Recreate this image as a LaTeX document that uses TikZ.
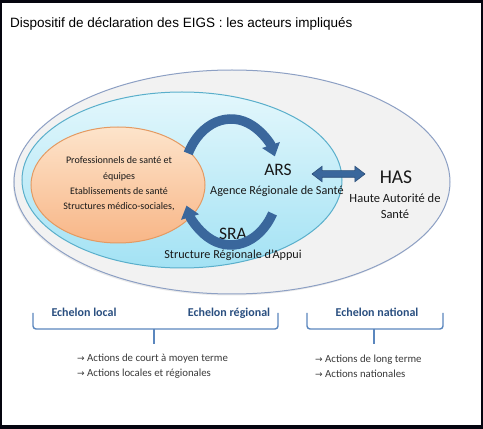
\documentclass[tikz,border=0pt]{standalone}
\usepackage{fontspec}
\setmainfont{Carlito}
\newfontfamily\titlefont{Liberation Sans}
\newfontfamily\arrowfont{DejaVu Sans}
\usetikzlibrary{shapes.geometric,shapes.arrows,arrows.meta,calc}
\definecolor{outerfill}{HTML}{F2F2F2}
\definecolor{outerline}{HTML}{8DA0C4}
\definecolor{cyantop}{HTML}{E3F7FC}
\definecolor{cyanbot}{HTML}{A3E2F4}
\definecolor{cyanline}{HTML}{5AAFCB}
\definecolor{orangetop}{HTML}{FDE4CB}
\definecolor{orangebot}{HTML}{F8B687}
\definecolor{orangeline}{HTML}{E49A62}
\definecolor{arrowblue}{HTML}{3A679C}
\definecolor{arrowdark}{HTML}{2B4E78}
\definecolor{bracecol}{HTML}{5B87BE}
\definecolor{echcol}{HTML}{2A4F80}
\definecolor{actcol}{HTML}{3A3A3A}
\definecolor{framecol}{HTML}{05050F}
\tikzset{
  zone/.style={ellipse, inner sep=0pt, line width=1pt},
  txt/.style={anchor=base, text=black!90, inner sep=0pt},
  bigtxt/.style={txt, font=\fontsize{17.5}{20}\selectfont},
  midtxt/.style={txt, font=\fontsize{12.2}{15}\selectfont},
  cyclearrow/.style={line width=9.5pt, arrowblue, -{Triangle[width=18pt,length=12pt]}},
  brace/.style={bracecol, line width=1.4pt, rounded corners=3pt},
  echelon/.style={anchor=base, inner sep=0pt, text=echcol, font=\bfseries\fontsize{12}{14}\selectfont},
  action/.style={anchor=base west, inner sep=0pt, text=actcol, align=left, font=\fontsize{10.8}{15}\selectfont}
}
\newcommand{\arw}{{\arrowfont\fontsize{9}{10}\selectfont →}}
\begin{document}
\begin{tikzpicture}[x=1pt,y=1pt]
\fill[framecol] (0,0) rectangle (483,429);
\fill[white] (1.5,4) rectangle (480.5,426);
\useasboundingbox (0,0) rectangle (483,429);

\node[anchor=base west, inner sep=0pt, font=\titlefont\fontsize{13.5}{16}\selectfont] (title) at (10,401)
  {Dispositif de déclaration des EIGS : les acteurs impliqués};

% zones
\node[zone, minimum width=436pt, minimum height=224pt, fill=black!8, draw=none] (shadow) at (231,245.5) {};
\node[zone, minimum width=436pt, minimum height=224pt, draw=outerline, fill=outerfill] (national) at (232,247) {};
\node[zone, minimum width=320pt, minimum height=176pt, draw=cyanline, top color=cyantop, bottom color=cyanbot] (regional) at (182,249) {};
\node[zone, minimum width=174pt, minimum height=116pt, draw=orangeline, top color=orangetop, bottom color=orangebot] (local) at (118,244) {};

% local text (base = last line)
\node[anchor=base, inner sep=0pt, align=center, text=black!90, font=\fontsize{10}{15.4}\selectfont] (proftxt) at (119,219)
  {Professionnels de santé et\\équipes\\Etablissements de santé\\Structures médico-sociales,};

% ARS / SRA / HAS
\node[bigtxt] (ars) at (278,253) {ARS};
\node[midtxt] (arsname) at (277,234) {Agence Régionale de Santé};
\node[bigtxt] (sra) at (233,189) {SRA};
\node[midtxt] (sraname) at (233,170) {Structure Régionale d'Appui};
\node[txt, font=\fontsize{19.5}{22}\selectfont] (has) at (396,245) {HAS};
\node[txt, align=center, font=\fontsize{12.5}{16}\selectfont] (hasname) at (395,210) {Haute Autorité de\\Santé};

% cycle arrows
\coordinate (cyc) at (231,247);
\draw[cyclearrow] ($(cyc)+(153:48pt and 63pt)$) arc[start angle=153, end angle=24, x radius=48pt, y radius=63pt];
\draw[cyclearrow] ($(cyc)+(-30:48pt and 63pt)$) arc[start angle=-30, end angle=-158, x radius=48pt, y radius=63pt];

% double arrow ARS <-> HAS
\node[double arrow, draw=arrowdark, fill=arrowblue, line width=0.6pt, minimum height=53pt,
      text height=0pt, text depth=0pt, inner xsep=0pt, inner ysep=3pt,
      double arrow head extend=4.5pt, double arrow tip angle=75] (link) at (338.5,255) {};

% braces
\draw[brace] (33,116) -- (33,100) -- (278,100) -- (278,116);
\draw[brace] (154,100) -- (154,85);
\draw[brace] (307,116) -- (307,100) -- (443,100) -- (443,116);
\draw[brace] (374,100) -- (374,85);

\node[echelon] (elocal) at (84,112) {Echelon local};
\node[echelon] (eregional) at (229,112) {Echelon régional};
\node[echelon] (enational) at (377,112) {Echelon national};

\node[action] (actlr) at (77,52) {\arw\ Actions de court à moyen terme\\\arw\ Actions locales et régionales};
\node[action] (actnat) at (315,51) {\arw\ Actions de long terme\\\arw\ Actions nationales};
\end{tikzpicture}
\end{document}
